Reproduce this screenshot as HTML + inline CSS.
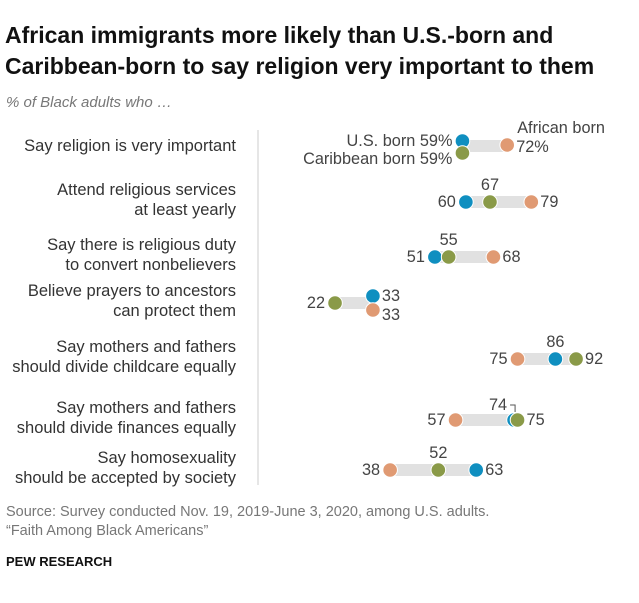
<!DOCTYPE html>
<html><head><meta charset="utf-8"><style>
body{margin:0;background:#fff;font-family:"Liberation Sans",sans-serif;}
svg text{font-family:"Liberation Sans",sans-serif;}
</style></head><body>
<svg width="639" height="598" viewBox="0 0 639 598">
<text x="5" y="43" font-size="23" font-weight="bold" fill="#111">African immigrants more likely than U.S.-born and</text>
<text x="5" y="74" font-size="23" font-weight="bold" fill="#111">Caribbean-born to say religion very important to them</text>
<text x="6" y="107" font-size="15" font-style="italic" fill="#777">% of Black adults who …</text>
<line x1="258" y1="130" x2="258" y2="485" stroke="#ccc"/>
<g id="rows"></g>
<text x="6" y="516" font-size="14.5" fill="#777">Source: Survey conducted Nov. 19, 2019-June 3, 2020, among U.S. adults.</text>
<text x="6" y="535" font-size="14.5" fill="#777">“Faith Among Black Americans”</text>
<text x="6" y="566" font-size="13" font-weight="bold" fill="#111">PEW RESEARCH</text>
</svg>
<script>
const categories=[["Say religion is very important"],["Attend religious services","at least yearly"],["Say there is religious duty","to convert nonbelievers"],["Believe prayers to ancestors","can protect them"],["Say mothers and fathers","should divide childcare equally"],["Say mothers and fathers","should divide finances equally"],["Say homosexuality","should be accepted by society"]];
const usBorn=[59,60,51,33,86,74,63];
const caribbeanBorn=[59,67,55,22,92,75,52];
const africanBorn=[72,79,68,33,75,57,38];
const NS="http://www.w3.org/2000/svg";
const g=document.getElementById('rows');
const rowY=[146,202,257,303,359,420,470];
const x=v=>259.3+3.443*v;
function el(t,a,txt){const e=document.createElementNS(NS,t);for(const k in a)e.setAttribute(k,a[k]);if(txt!=null)e.textContent=txt;g.appendChild(e);return e;}
const col={us:"#0f8fc0",ca:"#8a9a48",af:"#e09a73"};
categories.forEach((lines,i)=>{
  const y=rowY[i];
  const ly=lines.length===1?y+5:y-7;
  lines.forEach((l,j)=>{const t=el('text',{x:236,y:ly+j*20,'font-size':16.5,fill:'#333','text-anchor':'end'},l);
    
    });
  const vals=[usBorn[i],caribbeanBorn[i],africanBorn[i]];
  const mn=Math.min(...vals),mx=Math.max(...vals);
  const bar=el('rect',{x:x(mn),y:y-6,width:x(mx)-x(mn),height:12,fill:'#e1e1e1'});
  
  
  const pts=[["us",usBorn[i]],["ca",caribbeanBorn[i]],["af",africanBorn[i]]];
  let yo={us:0,ca:0,af:0};
  if(i===0){yo={us:-5,ca:7,af:-1};}
  if(i===3){yo={us:-7,ca:0,af:7};}
  const order=i===5?["af","us","ca"]:["us","ca","af"];
  order.forEach(k=>{const v={us:usBorn[i],ca:caribbeanBorn[i],af:africanBorn[i]}[k];
    const c=el('circle',{cx:x(v),cy:y+yo[k],r:7.3,fill:col[k],stroke:'#fff','stroke-width':1});
    
    });
  const lab=(tx,ty,anchor,s)=>{const t=el('text',{x:tx,y:ty,'font-size':16.3,fill:'#444','text-anchor':anchor},s);
    
    };
  if(i===0){
    lab(x(usBorn[i])-10,y,'end','U.S. born '+usBorn[i]+'%');
    lab(x(caribbeanBorn[i])-10,y+18,'end','Caribbean born '+caribbeanBorn[i]+'%');
    lab(x(africanBorn[i])+9,y+6,'start',africanBorn[i]+'%');
    lab(x(africanBorn[i])+10,y-13,'start','African born');
  } else if(i===3){
    lab(x(caribbeanBorn[i])-10,y+5,'end',caribbeanBorn[i]);
    lab(x(usBorn[i])+9,y-2,'start',usBorn[i]);
    lab(x(africanBorn[i])+9,y+17,'start',africanBorn[i]);
  } else if(i===5){
    lab(x(africanBorn[i])-10,y+5,'end',africanBorn[i]);
    lab(x(caribbeanBorn[i])+9,y+5,'start',caribbeanBorn[i]);
    lab(x(usBorn[i])-7,y-10,'end',usBorn[i]);
    const p=el('path',{d:`M${x(usBorn[i])-4} ${y-15} H${x(usBorn[i])+1} V${y-8}`,stroke:'#555',fill:'none'});
    
    
  } else {
    const sorted=pts.slice().sort((a,b)=>a[1]-b[1]);
    lab(x(sorted[0][1])-10,y+5,'end',sorted[0][1]);
    lab(x(sorted[2][1])+9,y+5,'start',sorted[2][1]);
    lab(x(sorted[1][1]),y-12,'middle',sorted[1][1]);
  }
});
</script>
</body></html>
